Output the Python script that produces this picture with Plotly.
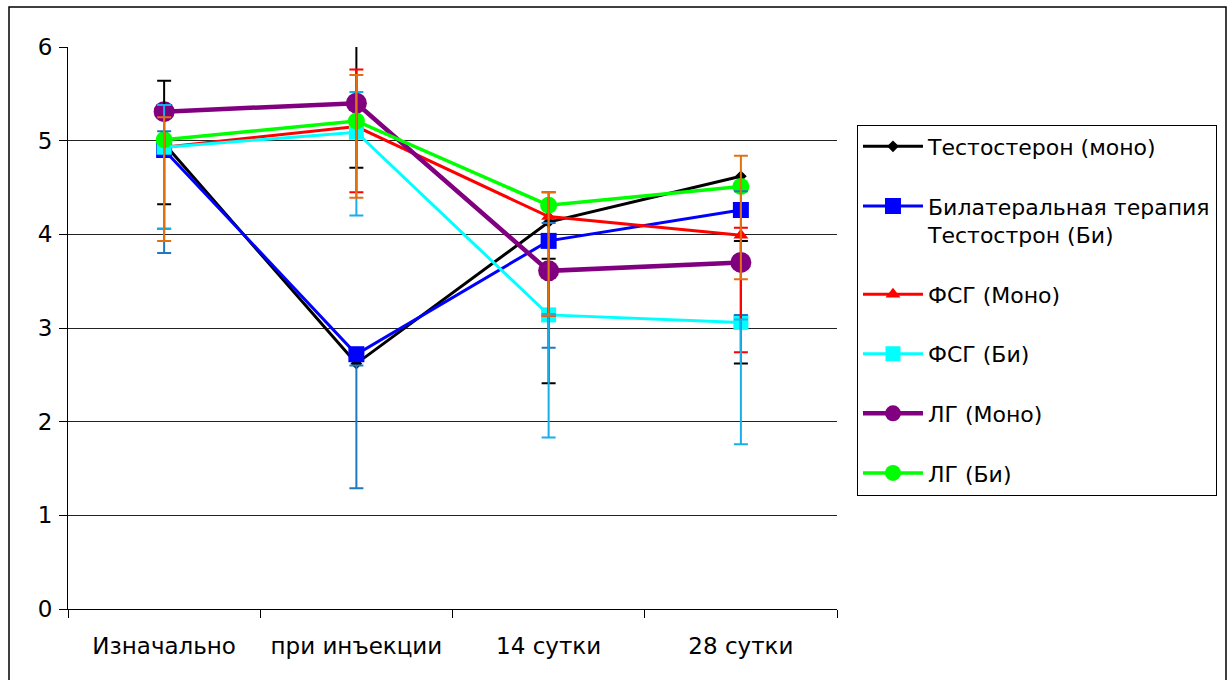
import plotly.graph_objects as go

# Временные точки
categories = ["Изначально", "при инъекции", "14 сутки", "28 сутки"]

# Средние значения по группам
testo_mono = [4.97, 2.62, 4.13, 4.62]
testo_bi = [4.90, 2.72, 3.93, 4.26]
fsh_mono = [4.93, 5.15, 4.19, 3.99]
fsh_bi = [4.93, 5.09, 3.14, 3.06]
lh_mono = [5.31, 5.40, 3.61, 3.70]
lh_bi = [5.01, 5.21, 4.31, 4.51]

# Границы разброса (нижняя / верхняя)
sd_black_lo = [4.32, 4.71, 2.41, 2.62]
sd_black_hi = [5.64, 6.02, 3.74, 3.93]
sd_blue_lo = [3.80, 1.29, 2.79, 3.14]
sd_blue_hi = [5.10, 2.60, 4.12, 4.46]
sd_red_lo = [4.06, 4.45, 3.13, 2.74]
sd_red_hi = [5.38, 5.76, 4.45, 4.07]
sd_sky_lo = [4.06, 4.20, 1.83, 1.76]
sd_sky_hi = [5.38, 5.52, 3.15, 3.09]
sd_orange_lo = [3.93, 4.39, 3.13, 3.52]
sd_orange_hi = [5.25, 5.70, 4.45, 4.84]

series = [
    ("Тестостерон (моно)", testo_mono, "#000000", "diamond", 9, 3),
    ("Билатеральная терапия<br>Тестострон (Би)", testo_bi, "#0000ff", "square", 16, 3),
    ("ФСГ (Моно)", fsh_mono, "#ff0000", "triangle-up", 13, 3),
    ("ФСГ (Би)", fsh_bi, "#00ffff", "square", 15, 3),
    ("ЛГ (Моно)", lh_mono, "#800080", "circle", 21, 4.5),
    ("ЛГ (Би)", lh_bi, "#00ff00", "circle", 17, 3.5),
]

spreads = [
    (sd_black_lo, sd_black_hi, "#000000"),
    (sd_blue_lo, sd_blue_hi, "#1f78c1"),
    (sd_red_lo, sd_red_hi, "#ff0000"),
    (sd_sky_lo, sd_sky_hi, "#18aeea"),
    (sd_orange_lo, sd_orange_hi, "#e3700f"),
]

FONT = "DejaVu Sans, Verdana, sans-serif"
FSIZE = 23

fig = go.Figure()

for i, (name, vals, color, symbol, size, lw) in enumerate(series):
    fig.add_trace(go.Scatter(
        x=categories, y=vals, name=name, mode="lines+markers",
        legendgroup=f"g{i}",
        line=dict(color=color, width=lw),
        marker=dict(color=color, symbol=symbol, size=size, line=dict(width=0)),
    ))

for lo, hi, color in spreads:
    fig.add_trace(go.Scatter(
        x=categories, y=lo, mode="markers", showlegend=False, hoverinfo="skip",
        cliponaxis=False,
        marker=dict(size=1, opacity=0),
        error_y=dict(type="data", symmetric=False,
                     array=[h - l for h, l in zip(hi, lo)],
                     arrayminus=[0] * len(lo),
                     color=color, thickness=2, width=7),
    ))

fig.update_layout(
    width=1231, height=680,
    paper_bgcolor="white", plot_bgcolor="white",
    margin=dict(l=68, r=394, t=47, b=71, autoexpand=False),
    font=dict(family=FONT, size=FSIZE, color="#000000"),
    legend=dict(
        x=1.026, y=0.862, xanchor="left", yanchor="top",
        bordercolor="#000000", borderwidth=1, bgcolor="white",
        font=dict(family=FONT, size=22), tracegroupgap=28,
        traceorder="grouped", valign="top", itemwidth=60,
    ),
    showlegend=True,
)

fig.update_xaxes(
    type="category", range=[-0.5, len(categories) - 0.5],
    showgrid=False, showline=True, linecolor="#000000", linewidth=1,
    ticks="outside", ticklen=8, tickcolor="#000000", tickson="boundaries",
    ticklabelstandoff=16, tickfont=dict(family=FONT, size=FSIZE), zeroline=False,
)
fig.update_yaxes(
    range=[0, 6], dtick=1, showgrid=True, gridcolor="#222222", gridwidth=1,
    showline=True, linecolor="#000000", linewidth=1, zeroline=False,
    ticks="outside", ticklen=8, tickcolor="#000000",
    ticklabelstandoff=2, tickfont=dict(family=FONT, size=FSIZE),
)

# Рамка вокруг всей диаграммы
fig.add_shape(type="rect", xref="paper", yref="paper",
              x0=(9 - 68) / 769, x1=(1226 - 68) / 769,
              y0=(609 - 700) / 562, y1=(609 - 7) / 562,
              line=dict(color="#000000", width=1.5), fillcolor="rgba(0,0,0,0)", layer="below")

fig.write_html("out.html")
